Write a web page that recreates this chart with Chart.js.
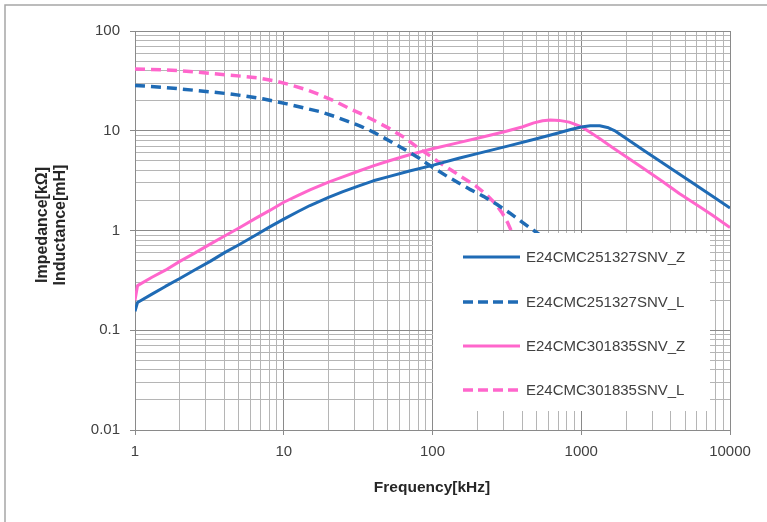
<!DOCTYPE html>
<html>
<head>
<meta charset="utf-8">
<script src="https://cdn.jsdelivr.net/npm/chart.js@4/dist/chart.umd.min.js"></script>
<style>
html,body{margin:0;padding:0;background:#fff;overflow:hidden}
#wrap{position:relative;width:767px;height:522px}
canvas{display:block}
</style>
</head>
<body>
<div id="wrap"><canvas id="c" width="767" height="522"></canvas></div>
<script>
// ---- data ----
const seriesLabels = ['E24CMC251327SNV_Z','E24CMC251327SNV_L','E24CMC301835SNV_Z','E24CMC301835SNV_L'];

const freqBlueZ = [1, 1.04, 1.3, 1.6, 2, 2.5, 3.2, 4, 5, 6.5, 8, 10, 12.5, 15, 20, 25, 32, 40, 50, 70, 100, 150, 200, 330, 500, 700, 850, 1000, 1150, 1330, 1500, 1700, 2100, 2700, 3350, 4200, 5300, 7500, 10000];
const valBlueZ  = [0.155, 0.19, 0.23, 0.275, 0.33, 0.40, 0.49, 0.6, 0.72, 0.9, 1.08, 1.3, 1.55, 1.78, 2.15, 2.45, 2.8, 3.15, 3.45, 3.95, 4.5, 5.3, 5.9, 7.1, 8.3, 9.5, 10.3, 10.9, 11.2, 11.2, 10.8, 9.9, 8.0, 6.2, 5.0, 4.0, 3.17, 2.24, 1.68];

const freqBlueL = [1, 1.5, 2, 3, 4.34, 5.5, 7.2, 10.5, 14, 17.4, 22, 27, 32.4, 40, 51.5, 65, 81.5, 100, 125, 150, 177, 220, 270, 330, 390, 450, 530, 600, 700];
const valBlueL  = [28.5, 27.3, 26.3, 24.8, 23.4, 22.3, 20.9, 18.6, 16.8, 15.6, 13.9, 12.4, 11.2, 9.7, 7.9, 6.5, 5.3, 4.3, 3.5, 3.0, 2.6, 2.2, 1.83, 1.5, 1.25, 1.07, 0.9, 0.75, 0.55];

const freqPinkZ = [1, 1.04, 1.3, 1.6, 2, 2.5, 3.2, 4, 5, 6.5, 8, 10, 12.5, 15, 20, 25, 32, 40, 50, 70, 100, 150, 207, 300, 400, 480, 550, 620, 710, 830, 1000, 1140, 1350, 1620, 2100, 2700, 3500, 4560, 6000, 7500, 10000];
const valPinkZ  = [0.2, 0.28, 0.34, 0.40, 0.49, 0.59, 0.73, 0.88, 1.06, 1.33, 1.58, 1.92, 2.25, 2.55, 3.05, 3.45, 3.95, 4.45, 4.95, 5.75, 6.6, 7.6, 8.5, 9.7, 10.9, 12.0, 12.6, 12.8, 12.7, 12.2, 11.0, 9.7, 8.2, 6.8, 5.25, 4.06, 3.12, 2.35, 1.8, 1.45, 1.07];

const freqPinkL = [1, 1.5, 2, 3, 4.34, 5.5, 6.6, 8.5, 10.5, 14, 17.4, 22, 27, 32.4, 40, 51.5, 65, 81.5, 100, 111, 135, 159, 195, 230, 265, 294, 320, 345, 380];
const valPinkL  = [41.7, 40.8, 40, 38, 36, 35, 34, 31.8, 29.5, 26, 23, 19.8, 17, 15, 12.8, 10.5, 8.5, 6.6, 5.4, 4.8, 4.0, 3.4, 2.8, 2.3, 1.85, 1.5, 1.2, 0.93, 0.7];

const xTickLabels = ['1','10','100','1000','10000'];
const yTickLabels = ['0.01','0.1','1','10','100'];
const xTitle = 'Frequency[kHz]';
const yTitleLines = ['Impedance[kΩ]','Inductance[mH]'];

// ---- styles ----
const BLUE = '#1f6bb5';
const PINK = '#ff66cc';
const FONT = '"Liberation Sans", Arial, sans-serif';

function pts(fx, fy){ return fx.map((f,i)=>({x:f,y:fy[i]})); }

function logTicksFromLabels(labels){
  const vals = labels.map(Number);
  const out = [];
  for (let d = 0; d < vals.length; d++){
    const base = vals[d];
    if (d === vals.length - 1){ out.push({value: base}); break; }
    for (let m = 1; m <= 9; m++) out.push({value: parseFloat((base*m).toPrecision(6))});
  }
  return out;
}
function isMajor(v){ const l = Math.log10(v); return Math.abs(l - Math.round(l)) < 1e-9; }
function fmt(v, labels){
  const s = labels.find(l => Math.abs(Number(l) - v) < 1e-12 * Math.max(1, v));
  return s !== undefined ? s : '';
}

const datasets = [
  {label: seriesLabels[0], data: pts(freqBlueZ, valBlueZ), borderColor: BLUE, borderWidth: 3, dash: []},
  {label: seriesLabels[1], data: pts(freqBlueL, valBlueL), borderColor: BLUE, borderWidth: 3.5, dash: [10, 6]},
  {label: seriesLabels[2], data: pts(freqPinkZ, valPinkZ), borderColor: PINK, borderWidth: 3, dash: []},
  {label: seriesLabels[3], data: pts(freqPinkL, valPinkL), borderColor: PINK, borderWidth: 3.5, dash: [10, 6]}
].map(d => ({
  label: d.label, data: d.data, borderColor: d.borderColor, backgroundColor: d.borderColor,
  borderWidth: d.borderWidth, borderDash: d.dash, pointRadius: 0, pointHoverRadius: 0,
  fill: false, tension: 0, borderCapStyle: 'butt', borderJoinStyle: 'round'
}));

const gridColor = ctx => (ctx.tick && isMajor(ctx.tick.value)) ? '#8a8a8a' : '#b5b5b5';
const tickColor = ctx => (ctx.tick && isMajor(ctx.tick.value)) ? '#8a8a8a' : 'rgba(0,0,0,0)';

const overlay = {
  id: 'overlay',
  afterDatasetsDraw(chart){
    const ctx = chart.ctx;
    // legend box
    const bx = 433, by = 233, bw = 277, bh = 178;
    ctx.save();
    ctx.fillStyle = '#ffffff';
    ctx.fillRect(bx, by, bw, bh);
    const rows = [257, 302, 346, 390];
    chart.data.datasets.forEach((ds, i) => {
      const y = rows[i];
      ctx.beginPath();
      ctx.strokeStyle = ds.borderColor;
      ctx.lineWidth = ds.borderWidth;
      ctx.setLineDash(ds.borderDash.length ? [10, 5] : []);
      ctx.moveTo(463, y); ctx.lineTo(520, y);
      ctx.stroke();
      ctx.setLineDash([]);
      ctx.fillStyle = '#404040';
      ctx.font = '15px ' + FONT;
      ctx.textAlign = 'left';
      ctx.textBaseline = 'middle';
      ctx.fillText(ds.label, 526, y + 1);
    });
    ctx.restore();
  },
  afterDraw(chart){
    const ctx = chart.ctx;
    ctx.save();
    // outer frame lines
    ctx.strokeStyle = '#a6a6a6';
    ctx.lineWidth = 1.5;
    ctx.beginPath();
    ctx.moveTo(5, 522); ctx.lineTo(5, 5); ctx.lineTo(767, 5);
    ctx.stroke();
    // titles
    ctx.fillStyle = '#262626';
    ctx.font = 'bold 15.5px ' + FONT;
    ctx.textAlign = 'center';
    ctx.textBaseline = 'middle';
    ctx.fillText(xTitle, 432, 488);
    ctx.translate(0, 225);
    ctx.rotate(-Math.PI/2);
    ctx.font = 'bold 16px ' + FONT;
    ctx.fillText(yTitleLines[0], 0, 43);
    ctx.fillText(yTitleLines[1], 0, 61);
    ctx.restore();
  }
};

new Chart(document.getElementById('c'), {
  type: 'line',
  data: {datasets},
  options: {
    responsive: false,
    devicePixelRatio: 1,
    animation: false,
    events: [],
    layout: {padding: {left: 0, top: 31, right: 37, bottom: 0}},
    plugins: {legend: {display: false}, tooltip: {enabled: false}, title: {display: false}},
    scales: {
      x: {
        type: 'logarithmic', min: 1, max: 10000,
        afterBuildTicks: s => { s.ticks = logTicksFromLabels(xTickLabels); },
        afterFit: s => { s.height = 92; },
        grid: {color: gridColor, tickColor: tickColor, tickLength: 5, lineWidth: 1, drawOnChartArea: true},
        border: {color: '#8a8a8a', width: 1},
        ticks: {autoSkip: false, maxRotation: 0, minRotation: 0, padding: 8, color: '#404040',
                font: {family: FONT, size: 15}, callback: v => fmt(v, xTickLabels)}
      },
      y: {
        type: 'logarithmic', min: 0.01, max: 100,
        afterBuildTicks: s => { s.ticks = logTicksFromLabels(yTickLabels); },
        afterFit: s => { s.width = 135; },
        grid: {color: gridColor, tickColor: tickColor, tickLength: 5, lineWidth: 1},
        border: {color: '#8a8a8a', width: 1},
        ticks: {autoSkip: false, padding: 10, color: '#404040',
                font: {family: FONT, size: 15}, callback: v => fmt(v, yTickLabels)}
      }
    }
  },
  plugins: [overlay]
});
</script>
</body>
</html>
